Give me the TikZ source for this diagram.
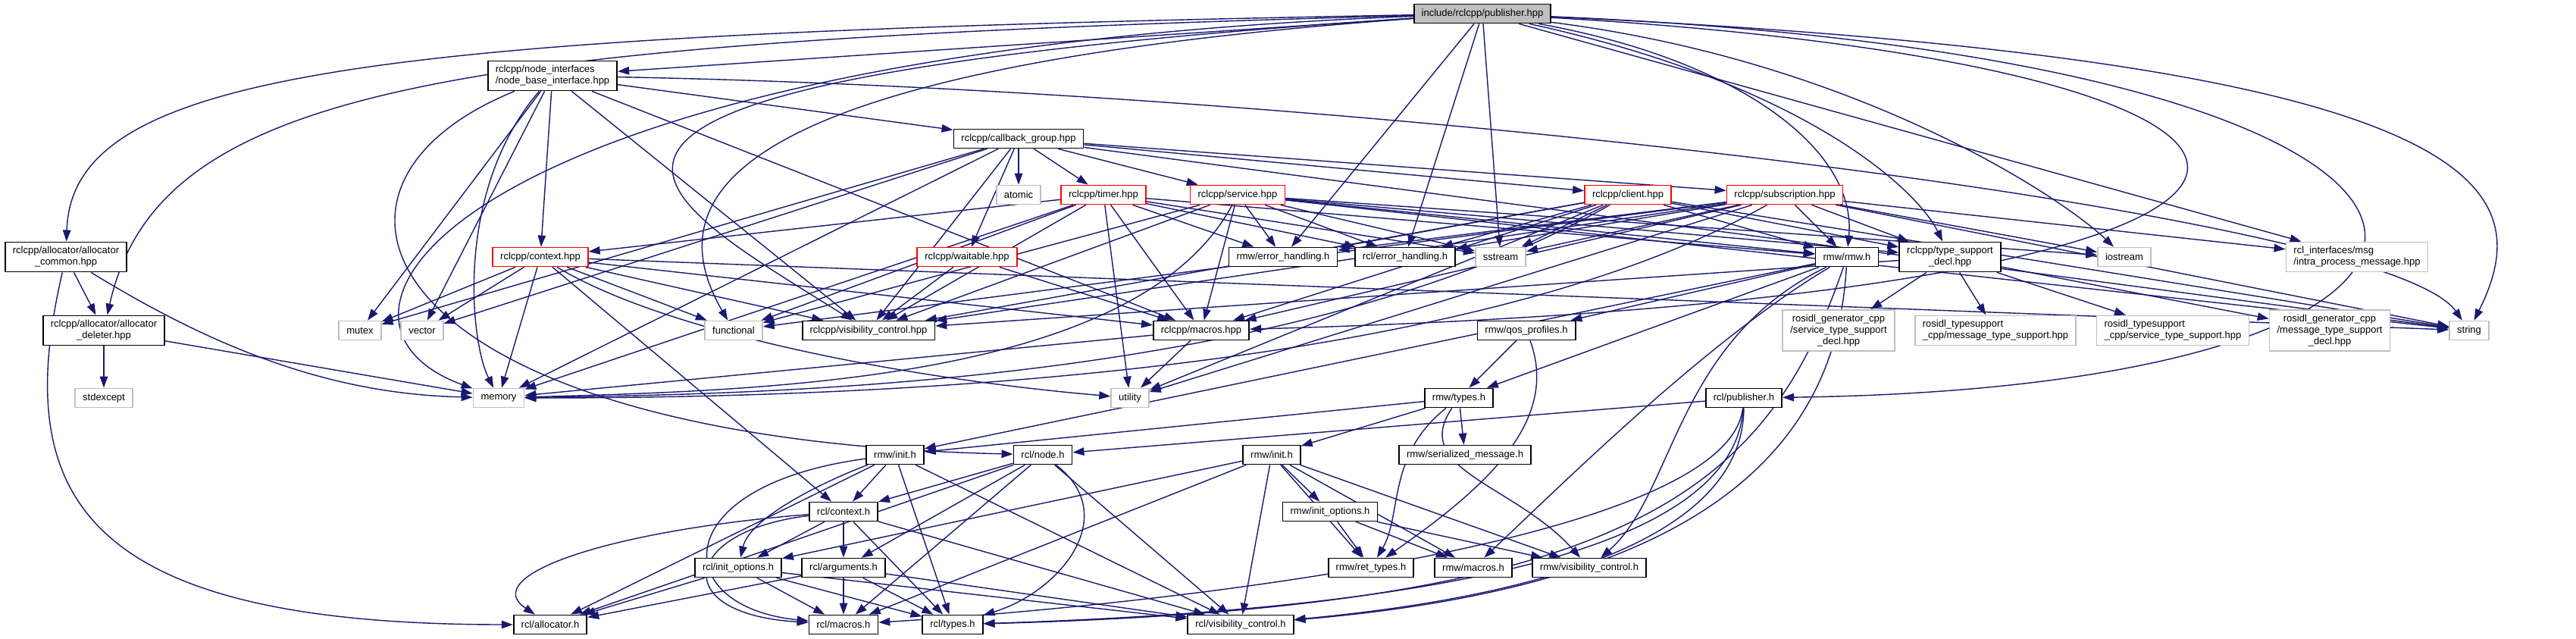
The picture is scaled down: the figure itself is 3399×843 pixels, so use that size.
\documentclass[tikz,border=0pt]{standalone}
\usepackage{fontspec}
\setmainfont{Liberation Sans}
\usetikzlibrary{arrows.meta,backgrounds}
\definecolor{edgeblue}{HTML}{191970}
\definecolor{hidgray}{HTML}{BFBFBF}

\begin{document}
\begin{tikzpicture}[x=0.01cm, y=-0.01cm, >={Triangle[length=0.15cm,width=0.105cm]}, font=\fontsize{3.7}{4.27}\selectfont]
	\tikzset{file/.style={draw=black, line width=0.5pt, fill=white, inner xsep=0.1cm, inner ysep=0.06cm, minimum height=0.25cm, align=center},
		sysfile/.style={file, draw=hidgray},
		redfile/.style={file, draw=red},
		topfile/.style={file, fill=hidgray},
		dep/.style={->, draw=edgeblue, line width=0.4pt}}
	\useasboundingbox (0,0) rectangle (3399,843);
	% top rows
	\node[topfile] (pub) at (1956,18) {include/rclcpp/publisher.hpp};
	\node[file, align=left] (nbi) at (729,100) {rclcpp/node\_interfaces\\/node\_base\_interface.hpp};
	\node[file] (cbg) at (1344,183) {rclcpp/callback\_group.hpp};
	\node[sysfile] (atomic) at (1344,257) {atomic};
	\node[redfile] (timer) at (1456,257) {rclcpp/timer.hpp};
	\node[redfile] (service) at (1633,257) {rclcpp/service.hpp};
	\node[redfile] (client) at (2148,257) {rclcpp/client.hpp};
	\node[redfile] (subscr) at (2355,257) {rclcpp/subscription.hpp};
	% middle row
	\node[file] (acommon) at (87,339) {rclcpp/allocator/allocator\\\_common.hpp};
	\node[redfile] (ctxhpp) at (713,339) {rclcpp/context.hpp};
	\node[redfile] (waitable) at (1276,339) {rclcpp/waitable.hpp};
	\node[file] (rmwerr) at (1693,339) {rmw/error\_handling.h};
	\node[file] (rclerr) at (1854,339) {rcl/error\_handling.h};
	\node[sysfile] (sstream) at (1980,339) {sstream};
	\node[file] (rmw) at (2437,339) {rmw/rmw.h};
	\node[file] (tsd) at (2573,339) {rclcpp/type\_support\\\_decl.hpp};
	\node[sysfile] (iostream) at (2803,339) {iostream};
	\node[sysfile, align=left] (intra) at (3110,339) {rcl\_interfaces/msg\\/intra\_process\_message.hpp};
	\node[file] (adeleter) at (137,436) {rclcpp/allocator/allocator\\\_deleter.hpp};
	\node[sysfile] (mutex) at (475,436) {mutex};
	\node[sysfile] (vector) at (557,436) {vector};
	\node[sysfile] (functional) at (968,436) {functional};
	\node[file] (visctl) at (1146,436) {rclcpp/visibility\_control.hpp};
	\node[file] (macros) at (1585,436) {rclcpp/macros.hpp};
	\node[file] (qos) at (2014,436) {rmw/qos\_profiles.h};
	\node[sysfile] (gensrv) at (2426,436) {rosidl\_generator\_cpp\\/service\_type\_support\\\_decl.hpp};
	\node[sysfile, align=left] (tsmsg) at (2633,436) {rosidl\_typesupport\\\_cpp/message\_type\_support.hpp};
	\node[sysfile, align=left] (tssrv) at (2867,436) {rosidl\_typesupport\\\_cpp/service\_type\_support.hpp};
	\node[sysfile] (genmsg) at (3074,436) {rosidl\_generator\_cpp\\/message\_type\_support\\\_decl.hpp};
	\node[sysfile] (string) at (3258,436) {string};
	\node[sysfile] (stdexcept) at (137,525) {stdexcept};
	\node[sysfile] (memory) at (658,525) {memory};
	\node[sysfile] (utility) at (1491,525) {utility};
	\node[file] (rmwtypes) at (1925,525) {rmw/types.h};
	\node[file] (rclpub) at (2301,525) {rcl/publisher.h};
	% bottom rows
	\node[file] (rmwinitA) at (1181,600) {rmw/init.h};
	\node[file] (rclnode) at (1376,600) {rcl/node.h};
	\node[file] (rmwinitB) at (1678,600) {rmw/init.h};
	\node[file] (serial) at (1933,600) {rmw/serialized\_message.h};
	\node[file] (rclctx) at (1113,675) {rcl/context.h};
	\node[file] (rmwinitopt) at (1755,675) {rmw/init\_options.h};
	\node[file] (rclinitopt) at (974,749) {rcl/init\_options.h};
	\node[file] (rclargs) at (1113,749) {rcl/arguments.h};
	\node[file] (rmwret) at (1809,749) {rmw/ret\_types.h};
	\node[file] (rmwmacros) at (1944,749) {rmw/macros.h};
	\node[file] (rmwvis) at (2097,749) {rmw/visibility\_control.h};
	\node[file] (rclalloc) at (726,824) {rcl/allocator.h};
	\node[file] (rclmacros) at (1113,824) {rcl/macros.h};
	\node[file] (rcltypes) at (1257,824) {rcl/types.h};
	\node[file] (rclvis) at (1637,824) {rcl/visibility\_control.h};

	\begin{scope}[on background layer]
	% publisher.hpp
	\draw[dep] (pub) -- (nbi);
	\draw[dep] (pub) .. controls (500,45) and (95,90) .. (acommon);
	\draw[dep] (pub) .. controls (600,55) and (210,110) .. (adeleter);
	\draw[dep] (pub) .. controls (600,70) and (370,420) .. (memory);
	\draw[dep] (pub) .. controls (560,110) and (850,250) .. (visctl);
	\draw[dep] (pub) .. controls (950,90) and (866,260) .. (functional);
	\draw[dep] (pub) -- (rmwerr);
	\draw[dep] (pub) -- (rclerr);
	\draw[dep] (pub) -- (sstream);
	\draw[dep] (pub) .. controls (2300,80) and (2450,200) .. (rmw);
	\draw[dep] (pub) .. controls (2380,110) and (2530,250) .. (tsd);
	\draw[dep] (pub) .. controls (2450,80) and (2720,260) .. (iostream);
	\draw[dep] (pub) -- (intra);
	\draw[dep] (pub) .. controls (3300,80) and (3350,250) .. (string);
	\draw[dep] (pub) .. controls (3420,80) and (3420,510) .. (rclpub);
	\draw[dep] (pub) .. controls (3200,90) and (3250,390) .. (macros);
	% node_base_interface.hpp
	\draw[dep] (nbi) .. controls (600,250) and (620,450) .. (memory);
	\draw[dep] (nbi) -- (mutex);
	\draw[dep] (nbi) -- (vector);
	\draw[dep] (nbi) -- (ctxhpp);
	\draw[dep] (nbi) -- (cbg);
	\draw[dep] (nbi) .. controls (1800,120) and (3150,280) .. (string);
	\draw[dep] (nbi) .. controls (360,250) and (500,580) .. (rclnode);
	\draw[dep] (nbi) -- (macros);
	\draw[dep] (nbi) -- (visctl);
	% callback_group.hpp
	\draw[dep] (cbg) -- (atomic);
	\draw[dep] (cbg) -- (timer);
	\draw[dep] (cbg) -- (service);
	\draw[dep] (cbg) -- (client);
	\draw[dep] (cbg) -- (subscr);
	\draw[dep] (cbg) -- (waitable);
	\draw[dep] (cbg) -- (visctl);
	\draw[dep] (cbg) -- (memory);
	\draw[dep] (cbg) -- (mutex);
	\draw[dep] (cbg) -- (vector);
	\draw[dep] (cbg) -- (string);
	% timer.hpp
	\draw[dep] (timer) -- (functional);
	\draw[dep] (timer) -- (memory);
	\draw[dep] (timer) -- (sstream);
	\draw[dep] (timer) -- (utility);
	\draw[dep] (timer) -- (ctxhpp);
	\draw[dep] (timer) -- (macros);
	\draw[dep] (timer) -- (visctl);
	\draw[dep] (timer) -- (rclerr);
	\draw[dep] (timer) -- (rmwerr);
	\draw[dep] (timer) -- (rmw);
	% service.hpp
	\draw[dep] (service) -- (functional);
	\draw[dep] (service) -- (iostream);
	\draw[dep] (service) .. controls (1500,505) and (1000,515) .. (memory);
	\draw[dep] (service) -- (sstream);
	\draw[dep] (service) -- (string);
	\draw[dep] (service) -- (rclerr);
	\draw[dep] (service) -- (macros);
	\draw[dep] (service) -- (tsd);
	\draw[dep] (service) -- (visctl);
	\draw[dep] (service) -- (rmwerr);
	\draw[dep] (service) -- (rmw);
	% client.hpp
	\draw[dep] (client) .. controls (1700,510) and (1000,520) .. (memory);
	\draw[dep] (client) -- (sstream);
	\draw[dep] (client) -- (string);
	\draw[dep] (client) -- (utility);
	\draw[dep] (client) -- (rclerr);
	\draw[dep] (client) -- (macros);
	\draw[dep] (client) -- (tsd);
	\draw[dep] (client) -- (visctl);
	\draw[dep] (client) -- (rmwerr);
	\draw[dep] (client) -- (rmw);
	% subscription.hpp
	\draw[dep] (subscr) -- (rmwerr);
	\draw[dep] (subscr) -- (rmw);
	\draw[dep] (subscr) -- (functional);
	\draw[dep] (subscr) -- (iostream);
	\draw[dep] (subscr) .. controls (1900,515) and (1000,525) .. (memory);
	\draw[dep] (subscr) -- (sstream);
	\draw[dep] (subscr) -- (string);
	\draw[dep] (subscr) -- (utility);
	\draw[dep] (subscr) -- (rclerr);
	\draw[dep] (subscr) -- (intra);
	\draw[dep] (subscr) -- (macros);
	\draw[dep] (subscr) -- (tsd);
	\draw[dep] (subscr) -- (visctl);
	% context.hpp
	\draw[dep] (ctxhpp) -- (functional);
	\draw[dep] (ctxhpp) -- (memory);
	\draw[dep] (ctxhpp) -- (mutex);
	\draw[dep] (ctxhpp) -- (string);
	\draw[dep] (ctxhpp) .. controls (880,440) and (1200,500) .. (utility);
	\draw[dep] (ctxhpp) -- (vector);
	\draw[dep] (ctxhpp) -- (rclctx);
	\draw[dep] (ctxhpp) -- (macros);
	\draw[dep] (ctxhpp) -- (visctl);
	% small rclcpp headers
	\draw[dep] (waitable) -- (visctl);
	\draw[dep] (waitable) -- (macros);
	\draw[dep] (acommon) .. controls (300,470) and (450,520) .. (memory);
	\draw[dep] (acommon) .. controls (15,650) and (100,824) .. (rclalloc);
	\draw[dep] (acommon) -- (adeleter);
	\draw[dep] (adeleter) -- (memory);
	\draw[dep] (adeleter) -- (stdexcept);
	\draw[dep] (macros) -- (memory);
	\draw[dep] (macros) -- (utility);
	\draw[dep] (tsd) -- (tsmsg);
	\draw[dep] (tsd) -- (tssrv);
	\draw[dep] (tsd) -- (genmsg);
	\draw[dep] (tsd) -- (gensrv);
	\draw[dep] (tsd) -- (visctl);
	% rmw side
	\draw[dep] (rmw) -- (qos);
	\draw[dep] (rmw) -- (rmwtypes);
	\draw[dep] (rmw) -- (rmwinitA);
	\draw[dep] (rmw) .. controls (2250,450) and (2050,650) .. (rmwmacros);
	\draw[dep] (rmw) .. controls (2210,450) and (2210,650) .. (rmwvis);
	\draw[dep] (rmw) .. controls (2330,650) and (2150,800) .. (rcltypes);
	\draw[dep] (rmw) .. controls (2420,650) and (2150,780) .. (rclvis);
	\draw[dep] (qos) -- (rmwtypes);
	\draw[dep] (qos) .. controls (2060,560) and (1950,650) .. (rmwret);
	\draw[dep] (rmwtypes) -- (rmwinitA);
	\draw[dep] (rmwtypes) -- (rmwinitB);
	\draw[dep] (rmwtypes) -- (serial);
	\draw[dep] (rmwtypes) .. controls (1830,600) and (1850,680) .. (rmwret);
	\draw[dep] (rmwtypes) .. controls (1860,620) and (2000,640) .. (rmwvis);
	\draw[dep] (rclpub) -- (rclnode);
	\draw[dep] (rclpub) .. controls (2290,700) and (2000,800) .. (rcltypes);
	\draw[dep] (rclpub) .. controls (2300,720) and (2000,790) .. (rclvis);
	\draw[dep] (rclpub) .. controls (2280,720) and (1500,800) .. (rclmacros);
	% rmw/init.h
	\draw[dep] (rmwinitA) -- (rclctx);
	\draw[dep] (rmwinitA) .. controls (1100,630) and (990,680) .. (rclinitopt);
	\draw[dep] (rmwinitA) .. controls (880,640) and (880,800) .. (rclmacros);
	\draw[dep] (rmwinitA) -- (rcltypes);
	\draw[dep] (rmwinitA) -- (rclvis);
	\draw[dep] (rmwinitA) -- (rclalloc);
	\draw[dep] (rmwinitB) -- (rmwinitopt);
	\draw[dep] (rmwinitB) -- (rmwret);
	\draw[dep] (rmwinitB) -- (rmwmacros);
	\draw[dep] (rmwinitB) -- (rmwvis);
	\draw[dep] (rmwinitB) -- (rclinitopt);
	\draw[dep] (rmwinitB) -- (rclmacros);
	\draw[dep] (rmwinitB) -- (rclvis);
	\draw[dep] (rmwinitopt) -- (rmwret);
	\draw[dep] (rmwinitopt) -- (rmwmacros);
	\draw[dep] (rmwinitopt) -- (rmwvis);
	% rcl headers
	\draw[dep] (rclnode) -- (rclctx);
	\draw[dep] (rclnode) -- (rclargs);
	\draw[dep] (rclnode) -- (rclmacros);
	\draw[dep] (rclnode) .. controls (1480,680) and (1400,780) .. (rcltypes);
	\draw[dep] (rclnode) -- (rclvis);
	\draw[dep] (rclnode) -- (rclalloc);
	\draw[dep] (rclctx) -- (rclinitopt);
	\draw[dep] (rclctx) -- (rclargs);
	\draw[dep] (rclctx) .. controls (900,700) and (880,810) .. (rclmacros);
	\draw[dep] (rclctx) -- (rcltypes);
	\draw[dep] (rclctx) -- (rclvis);
	\draw[dep] (rclctx) .. controls (800,700) and (630,760) .. (rclalloc);
	\draw[dep] (rclinitopt) -- (rclalloc);
	\draw[dep] (rclinitopt) -- (rclmacros);
	\draw[dep] (rclinitopt) -- (rcltypes);
	\draw[dep] (rclinitopt) -- (rclvis);
	\draw[dep] (rclargs) -- (rclalloc);
	\draw[dep] (rclargs) -- (rclmacros);
	\draw[dep] (rclargs) -- (rcltypes);
	\draw[dep] (rclargs) -- (rclvis);
	\end{scope}
\end{tikzpicture}
\end{document}
